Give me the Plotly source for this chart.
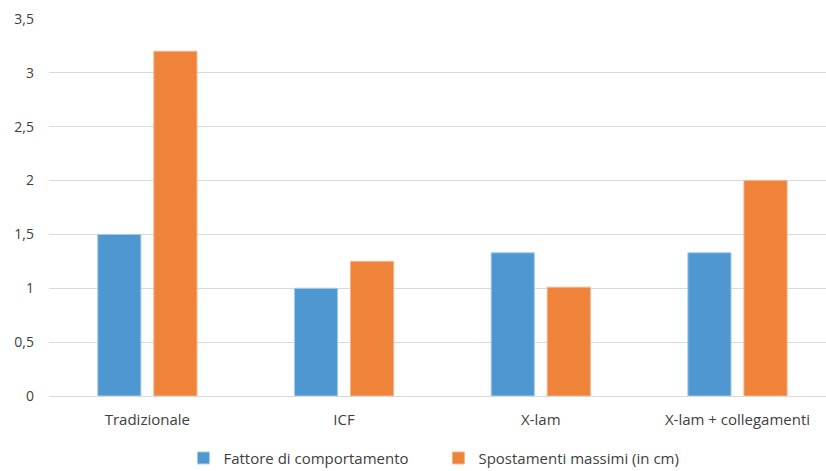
import plotly.graph_objects as go

categories = ["Tradizionale", "ICF", "X-lam", "X-lam + collegamenti"]
fattore = [1.5, 1.0, 1.33, 1.33]
spostamenti = [3.2, 1.25, 1.01, 2.0]
series_names = ["Fattore di comportamento", "Spostamenti massimi (in cm)"]
y_ticks = [0, 0.5, 1, 1.5, 2, 2.5, 3, 3.5]

fig = go.Figure()
fig.add_trace(go.Bar(x=categories, y=fattore, name=series_names[0],
                     marker=dict(color="#4F97D1", line=dict(color="#A9CBEA", width=1))))
fig.add_trace(go.Bar(x=categories, y=spostamenti, name=series_names[1],
                     marker=dict(color="#F0833A", line=dict(color="#F6B48A", width=1))))

fig.update_layout(
    width=826, height=471,
    margin=dict(l=49, r=0, t=19, b=75, autoexpand=False),
    paper_bgcolor="white", plot_bgcolor="white",
    separators=",.",
    barmode="group", bargap=0.43, bargroupgap=0.23,
    font=dict(family="Open Sans, Noto Sans, sans-serif", size=13, color="#404040"),
    showlegend=True,
    legend=dict(orientation="h", x=0.173, xanchor="left", y=-0.165, yanchor="middle",
                font=dict(size=15, color="#404040"), itemwidth=30, traceorder="normal",
                entrywidth=210, tracegroupgap=0, borderwidth=0),
    xaxis=dict(range=[-0.5, 3.45], showgrid=False, showline=False, ticks="",
               ticklabelstandoff=13,
               tickfont=dict(size=15, color="#404040")),
    yaxis=dict(range=[0, 3.5], tickvals=y_ticks, showgrid=True, gridcolor="#D9D9D9",
               gridwidth=1, zeroline=True, zerolinecolor="#D9D9D9", zerolinewidth=1,
               showline=False, ticks="", ticklabelstandoff=14,
               tickfont=dict(size=14, color="#404040")),
)

fig.write_html("out.html")
